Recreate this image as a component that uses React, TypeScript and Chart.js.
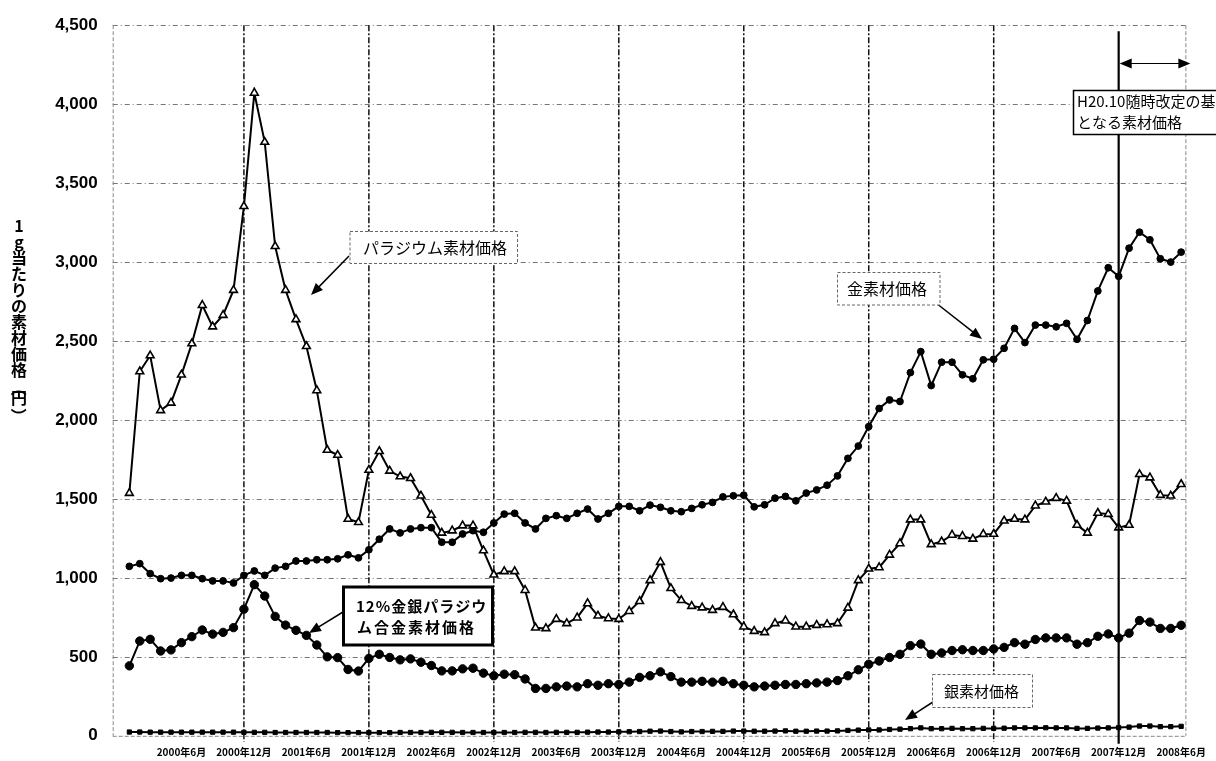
import React, { useEffect, useRef } from "react";
import { Chart, registerables } from "chart.js";

Chart.register(...registerables);

// ---- categories (monthly, 2000年1月 .. 2008年6月) ----
const monthCategories: string[] = [];
for (let y = 2000; y <= 2008; y++) {
  for (let m = 1; m <= 12; m++) {
    if (y === 2008 && m > 6) break;
    monthCategories.push(`${y}年${m}月`);
  }
}

const tickLabels: string[] = [
  "2000年6月", "2000年12月", "2001年6月", "2001年12月", "2002年6月", "2002年12月",
  "2003年6月", "2003年12月", "2004年6月", "2004年12月", "2005年6月", "2005年12月",
  "2006年6月", "2006年12月", "2007年6月", "2007年12月", "2008年6月",
];

const dashedGridLabels: string[] = [
  "2000年12月", "2001年12月", "2002年12月", "2003年12月", "2004年12月", "2005年12月", "2006年12月",
];
const solidLineLabel = "2007年12月";

const yTicks: number[] = [0, 500, 1000, 1500, 2000, 2500, 3000, 3500, 4000, 4500];

// ---- series (円 / g) ----
const palladium: number[] = [
  1537, 2307, 2408, 2061, 2108, 2286, 2484, 2727, 2591, 2664, 2822, 3353,
  4071, 3760, 3100, 2822, 2637, 2467, 2187, 1810, 1778, 1373, 1352, 1683,
  1802, 1678, 1642, 1631, 1520, 1398, 1285, 1299, 1331, 1331, 1173, 1020,
  1041, 1041, 922, 684, 680, 739, 712, 748, 838, 760, 743, 739,
  789, 852, 984, 1100, 934, 858, 821, 812, 796, 815, 768, 691,
  663, 655, 712, 729, 691, 691, 701, 705, 712, 810, 984, 1058,
  1066, 1146, 1218, 1369, 1369, 1212, 1230, 1272, 1264, 1247, 1277, 1278,
  1362, 1373, 1369, 1457, 1482, 1505, 1488, 1335, 1285, 1411, 1404, 1318,
  1335, 1656, 1635, 1524, 1520, 1593,
];

const gold: number[] = [
  1073, 1090, 1027, 995, 999, 1016, 1016, 995, 981, 981, 968, 1016,
  1044, 1016, 1062, 1073, 1107, 1107, 1115, 1115, 1121, 1146, 1127, 1178,
  1245, 1310, 1285, 1310, 1318, 1318, 1226, 1226, 1278, 1299, 1289, 1348,
  1404, 1409, 1348, 1310, 1377, 1394, 1377, 1409, 1436, 1373, 1409, 1453,
  1453, 1425, 1461, 1447, 1425, 1419, 1440, 1463, 1478, 1513, 1520, 1524,
  1450, 1463, 1505, 1516, 1488, 1537, 1557, 1587, 1646, 1757, 1835, 1958,
  2073, 2127, 2117, 2300, 2433, 2218, 2366, 2366, 2286, 2261, 2381, 2385,
  2454, 2580, 2490, 2601, 2601, 2590, 2612, 2511, 2630, 2817, 2964, 2910,
  3088, 3189, 3141, 3021, 3000, 3063,
];

const alloy12: number[] = [
  443, 600, 611, 537, 544, 590, 628, 670, 644, 655, 685, 802,
  957, 885, 756, 701, 668, 636, 575, 500, 495, 420, 410, 490,
  516, 496, 481, 487, 466, 445, 411, 411, 424, 428, 397, 380,
  390, 387, 360, 300, 300, 310, 315, 310, 330, 320, 330, 325,
  340, 370, 380, 405, 375, 340, 340, 345, 340, 345, 330, 320,
  310, 315, 320, 325, 325, 330, 335, 340, 350, 380, 418, 453,
  474, 496, 516, 571, 581, 516, 525, 540, 545, 540, 540, 550,
  560, 590, 580, 610, 620, 620, 620, 580, 590, 630, 645, 620,
  650, 730, 720, 680, 680, 700,
];

const silver: number[] = [
  24, 24, 23, 23, 23, 23, 23, 23, 23, 23, 23, 22,
  22, 22, 21, 21, 21, 21, 21, 21, 20, 20, 20, 20,
  20, 20, 21, 21, 21, 22, 22, 22, 21, 21, 21, 21,
  21, 21, 22, 22, 21, 22, 22, 22, 23, 24, 24, 25,
  26, 27, 29, 30, 27, 25, 27, 27, 28, 28, 30, 30,
  29, 29, 30, 31, 29, 29, 30, 30, 31, 34, 36, 37,
  37, 40, 42, 45, 50, 45, 45, 47, 45, 45, 47, 47,
  48, 50, 50, 50, 51, 50, 50, 47, 47, 49, 50, 52,
  55, 62, 62, 58, 58, 60,
];

const yTitleChars: string[] = ["1", "g", "当", "た", "り", "の", "素", "材", "価", "格", "（", "円", "）"];

const JP = '"Noto Sans CJK JP", "Noto Sans", sans-serif';

function toXY(arr: number[]) {
  return arr.map((v, i) => ({ x: i, y: v }));
}

function arrow(ctx: CanvasRenderingContext2D, x1: number, y1: number, x2: number, y2: number, head = 12, half = 5, lw = 1.5) {
  const a = Math.atan2(y2 - y1, x2 - x1);
  ctx.save();
  ctx.setLineDash([]);
  ctx.strokeStyle = "#000";
  ctx.fillStyle = "#000";
  ctx.lineWidth = lw;
  ctx.beginPath();
  ctx.moveTo(x1, y1);
  ctx.lineTo(x2 - Math.cos(a) * head * 0.8, y2 - Math.sin(a) * head * 0.8);
  ctx.stroke();
  ctx.beginPath();
  ctx.moveTo(x2, y2);
  ctx.lineTo(x2 - Math.cos(a) * head - Math.sin(a) * half, y2 - Math.sin(a) * head + Math.cos(a) * half);
  ctx.lineTo(x2 - Math.cos(a) * head + Math.sin(a) * half, y2 - Math.sin(a) * head - Math.cos(a) * half);
  ctx.closePath();
  ctx.fill();
  ctx.restore();
}

function box(ctx: CanvasRenderingContext2D, x: number, y: number, w: number, h: number, stroke: string, lw: number, dash: number[]) {
  ctx.save();
  ctx.fillStyle = "#fff";
  ctx.fillRect(x, y, w, h);
  ctx.strokeStyle = stroke;
  ctx.lineWidth = lw;
  ctx.setLineDash(dash);
  ctx.strokeRect(x, y, w, h);
  ctx.restore();
}

function text(ctx: CanvasRenderingContext2D, s: string, x: number, y: number, font: string, spacing = "0px") {
  ctx.save();
  ctx.font = font;
  (ctx as any).letterSpacing = spacing;
  ctx.fillStyle = "#000";
  ctx.textAlign = "left";
  ctx.textBaseline = "middle";
  ctx.fillText(s, x, y);
  ctx.restore();
}

const decorPlugin = {
  id: "refDecor",
  beforeDatasetsDraw(chart: any) {
    const { ctx, chartArea: a, scales } = chart;
    const xs = scales.x;
    const ys = scales.y;
    ctx.save();
    ctx.strokeStyle = "#777";
    ctx.lineWidth = 1;
    ctx.setLineDash([5, 3, 1, 3]);
    for (const v of yTicks) {
      if (v === 0) continue;
      const y = Math.round(ys.getPixelForValue(v)) + 0.5;
      ctx.beginPath();
      ctx.moveTo(a.left, y);
      ctx.lineTo(a.right, y);
      ctx.stroke();
    }
    ctx.strokeStyle = "#111";
    ctx.lineWidth = 1.5;
    ctx.setLineDash([6, 2, 2, 2]);
    for (const l of dashedGridLabels) {
      const x = xs.getPixelForValue(monthCategories.indexOf(l));
      ctx.beginPath();
      ctx.moveTo(x, a.top);
      ctx.lineTo(x, a.bottom + 6);
      ctx.stroke();
    }
    ctx.strokeStyle = "#888";
    ctx.lineWidth = 1;
    ctx.setLineDash([4, 2]);
    ctx.beginPath();
    ctx.moveTo(a.left + 0.5, a.top);
    ctx.lineTo(a.left + 0.5, a.bottom);
    ctx.moveTo(a.left, a.bottom + 0.5);
    ctx.lineTo(a.right, a.bottom + 0.5);
    ctx.moveTo(a.right - 0.5, a.top);
    ctx.lineTo(a.right - 0.5, a.bottom);
    ctx.stroke();
    ctx.restore();
  },
  afterDatasetsDraw(chart: any) {
    const { ctx, chartArea: a, scales } = chart;
    const xs = scales.x;
    const xs07 = xs.getPixelForValue(monthCategories.indexOf(solidLineLabel));
    ctx.save();
    ctx.strokeStyle = "#000";
    ctx.lineWidth = 2.2;
    ctx.setLineDash([]);
    ctx.beginPath();
    ctx.moveTo(xs07, a.top + 6);
    ctx.lineTo(xs07, a.bottom + 8);
    ctx.stroke();
    ctx.restore();

    const ya = 63.5;
    const xr = a.right + 4;
    ctx.save();
    ctx.strokeStyle = "#000";
    ctx.lineWidth = 1;
    ctx.beginPath();
    ctx.moveTo(xs07 + 8, ya);
    ctx.lineTo(xr - 8, ya);
    ctx.stroke();
    ctx.fillStyle = "#000";
    ctx.beginPath();
    ctx.moveTo(xs07 + 1, ya);
    ctx.lineTo(xs07 + 13, ya - 5);
    ctx.lineTo(xs07 + 13, ya + 5);
    ctx.closePath();
    ctx.fill();
    ctx.beginPath();
    ctx.moveTo(xr, ya);
    ctx.lineTo(xr - 12, ya - 5);
    ctx.lineTo(xr - 12, ya + 5);
    ctx.closePath();
    ctx.fill();
    ctx.restore();

    arrow(ctx, 349, 256, 311, 295);
    box(ctx, 350, 231.5, 167.5, 32, "#666", 1, [3, 2]);
    text(ctx, "パラジウム素材価格", 363, 248, `16px ${JP}`);

    arrow(ctx, 936, 303, 982, 339);
    box(ctx, 837.5, 272.5, 102.5, 32.5, "#666", 1, [3, 2]);
    text(ctx, "金素材価格", 847, 289, `16px ${JP}`);

    arrow(ctx, 343, 612, 309, 633);
    box(ctx, 343.5, 587, 149, 58, "#000", 3, []);
    text(ctx, "12%金銀パラジウ", 356, 606.5, `bold 15px ${JP}`, "1px");
    text(ctx, "ム合金素材価格", 357, 627.5, `bold 15px ${JP}`, "2px");

    arrow(ctx, 936, 700, 905, 720);
    box(ctx, 932.5, 674.5, 100, 33, "#666", 1, [3, 2]);
    text(ctx, "銀素材価格", 944, 691, `15px ${JP}`);

    box(ctx, 1073.5, 90.5, 170, 44, "#000", 1.5, []);
    text(ctx, "H20.10随時改定の基礎", 1077, 101.5, `15px ${JP}`);
    text(ctx, "となる素材価格", 1077, 122, `15px ${JP}`);
  },
  afterDraw(chart: any) {
    const { ctx } = chart;
    ctx.save();
    ctx.fillStyle = "#000";
    ctx.textAlign = "center";
    ctx.textBaseline = "middle";
    ctx.font = `bold 16px ${JP}`;
    let y = 226;
    const cx = 19;
    for (const ch of yTitleChars) {
      if (ch === "（" || ch === "）") {
        ctx.save();
        ctx.translate(cx, y + 2);
        ctx.rotate(Math.PI / 2);
        ctx.fillText(ch, 0, 0);
        ctx.restore();
        y += 12;
      } else {
        ctx.fillText(ch, cx, y);
        y += 16;
      }
    }
    ctx.restore();
  },
};

export default function App() {
  const ref = useRef<HTMLCanvasElement | null>(null);
  useEffect(() => {
    if (!ref.current) return;
    const common = {
      borderColor: "#000",
      borderWidth: 2,
      pointBorderColor: "#000",
      tension: 0,
      fill: false,
    };
    const chart = new Chart(ref.current, {
      type: "line",
      data: {
        datasets: [
          {
            ...common,
            label: "パラジウム素材価格",
            data: toXY(palladium),
            pointStyle: "triangle",
            pointRadius: 4.5,
            pointBackgroundColor: "#fff",
            pointBorderWidth: 1.6,
          },
          {
            ...common,
            label: "金素材価格",
            data: toXY(gold),
            pointStyle: "circle",
            pointRadius: 3.4,
            pointBackgroundColor: "#000",
            pointBorderWidth: 1,
          },
          {
            ...common,
            label: "12%金銀パラジウム合金素材価格",
            data: toXY(alloy12),
            pointStyle: "circle",
            pointRadius: 4.2,
            pointBackgroundColor: "#000",
            pointBorderWidth: 1,
          },
          {
            ...common,
            label: "銀素材価格",
            data: toXY(silver),
            pointStyle: "rect",
            pointRadius: 3,
            pointBackgroundColor: "#000",
            pointBorderWidth: 1,
          },
        ],
      },
      options: {
        animation: false,
        responsive: false,
        maintainAspectRatio: false,
        layout: { padding: { left: 0, right: 21, top: 23.4, bottom: 0 }, autoPadding: false },
        plugins: { legend: { display: false }, tooltip: { enabled: false } },
        scales: {
          x: {
            type: "linear",
            min: -1.6,
            max: 101.5,
            afterBuildTicks: (s: any) => {
              s.ticks = tickLabels.map((l) => ({ value: monthCategories.indexOf(l) }));
            },
            afterFit: (s: any) => {
              s.height = 23;
            },
            grid: { display: false, drawTicks: false, tickLength: 0 },
            border: { display: false },
            ticks: {
              autoSkip: false,
              maxRotation: 0,
              minRotation: 0,
              padding: 10,
              color: "#000",
              font: { size: 10, weight: "bold", family: JP },
              callback: (v: any) => monthCategories[Math.round(Number(v))] ?? "",
            },
          },
          y: {
            min: 0,
            max: 4500,
            afterFit: (s: any) => {
              s.width = 112.7;
            },
            afterBuildTicks: (s: any) => {
              s.ticks = yTicks.map((v) => ({ value: v }));
            },
            grid: { display: false, drawTicks: false, tickLength: 0 },
            border: { display: false },
            ticks: {
              padding: 15,
              color: "#000",
              font: { size: 17, weight: "bold", family: '"Liberation Sans", Arial, sans-serif' },
              callback: (v: any) => Number(v).toLocaleString("en-US"),
            },
          },
        },
      },
      plugins: [decorPlugin],
    } as any);
    return () => chart.destroy();
  }, []);

  return (
    <div style={{ position: "fixed", left: 0, top: 0, width: 1216, height: 761, background: "#fff" }}>
      <canvas ref={ref} width={1216} height={761} style={{ display: "block", width: 1216, height: 761 }} />
    </div>
  );
}
